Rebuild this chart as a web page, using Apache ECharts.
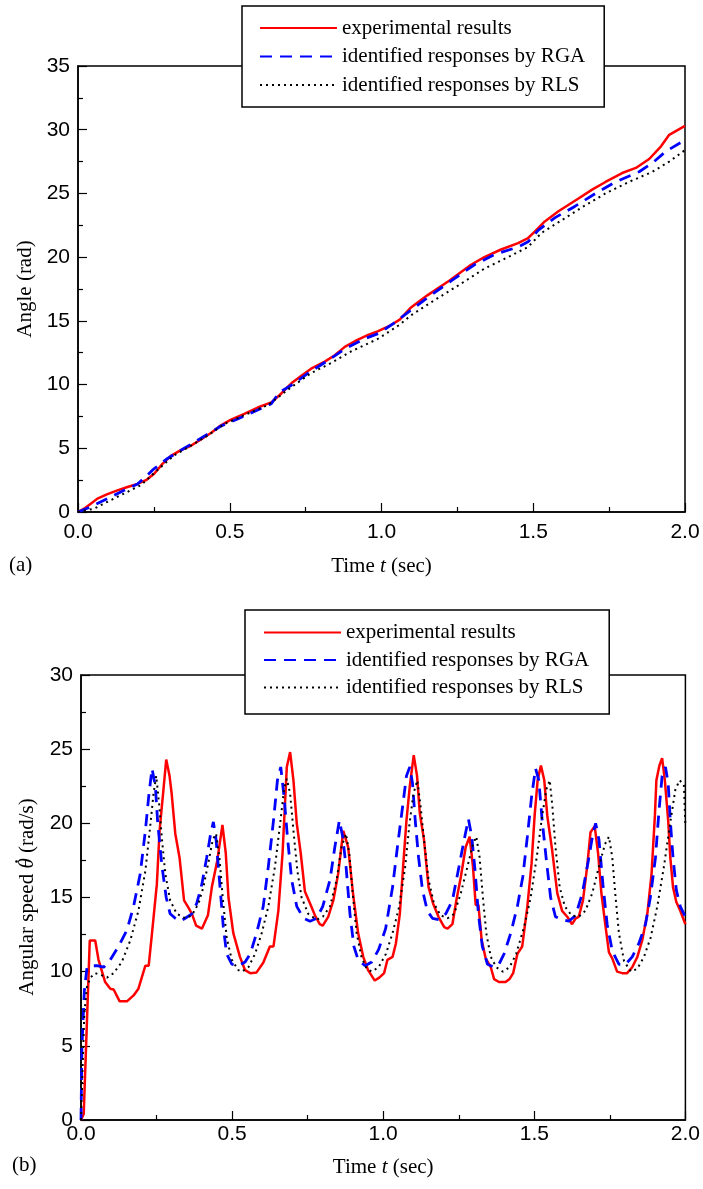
<!DOCTYPE html>
<html>
<head>
<meta charset="utf-8">
<title>Angle and angular speed responses</title>
<script src="https://cdn.jsdelivr.net/npm/echarts@6/dist/echarts.min.js"></script>
<style>
  html, body { margin: 0; padding: 0; background: #fff; }
  #canvas { width: 703px; height: 1189px; }
</style>
</head>
<body>
<div id="canvas"></div>
<script type="text/javascript">
// 图例名称
var seriesNames = ['experimental results', 'identified responses by RGA', 'identified responses by RLS'];

// (a) 角度 [t, rad]
var angleExp = [[0,0],[0.02,0.26],[0.042,0.65],[0.064,1.05],[0.097,1.4],[0.13,1.7],[0.163,1.96],[0.196,2.2],[0.224,2.5],[0.251,3.0],[0.279,3.8],[0.306,4.4],[0.339,4.85],[0.372,5.2],[0.405,5.7],[0.438,6.2],[0.471,6.8],[0.504,7.25],[0.548,7.7],[0.592,8.2],[0.637,8.6],[0.67,9.3],[0.703,10.1],[0.736,10.7],[0.768,11.25],[0.813,11.8],[0.846,12.3],[0.879,12.96],[0.912,13.4],[0.956,13.9],[0.989,14.2],[1.03,14.65],[1.06,15.1],[1.095,16.0],[1.151,17.0],[1.223,18.15],[1.295,19.4],[1.339,20.0],[1.394,20.6],[1.45,21.1],[1.483,21.5],[1.505,22.0],[1.538,22.8],[1.583,23.6],[1.649,24.6],[1.694,25.3],[1.738,25.9],[1.793,26.6],[1.838,27.0],[1.882,27.7],[1.921,28.7],[1.948,29.6],[2.0,30.3]];
var angleRga = [[0,0],[0.042,0.4],[0.097,1.05],[0.152,1.7],[0.196,2.2],[0.225,2.8],[0.246,3.3],[0.295,4.2],[0.35,5.0],[0.427,6.1],[0.471,6.75],[0.526,7.3],[0.592,8.0],[0.637,8.5],[0.664,9.4],[0.703,9.95],[0.758,10.9],[0.824,11.9],[0.879,12.8],[0.945,13.6],[0.989,14.0],[1.04,14.8],[1.095,15.8],[1.162,17.0],[1.239,18.3],[1.306,19.4],[1.372,20.2],[1.45,20.8],[1.483,21.2],[1.516,22.1],[1.572,23.1],[1.638,24.0],[1.705,25.0],[1.771,25.9],[1.849,26.7],[1.893,27.4],[1.937,28.3],[2.0,29.2]];
var angleRls = [[0,0],[0.053,0.26],[0.097,0.8],[0.152,1.45],[0.207,2.1],[0.262,3.3],[0.317,4.45],[0.372,5.2],[0.427,6.0],[0.482,6.9],[0.548,7.6],[0.626,8.4],[0.67,9.2],[0.703,9.8],[0.768,10.9],[0.835,11.7],[0.9,12.6],[0.989,13.6],[1.06,14.7],[1.095,15.4],[1.173,16.6],[1.261,17.9],[1.339,19.1],[1.417,20.0],[1.483,20.8],[1.527,21.9],[1.594,22.9],[1.66,23.9],[1.738,25.0],[1.815,25.9],[1.893,26.7],[1.948,27.5],[2.0,28.4]];

// (b) 角速度 [t, rad/s]
var speedExp = [[0,0],[0.009,0.4],[0.029,12.1],[0.047,12.1],[0.058,10.8],[0.08,9.3],[0.097,8.85],[0.108,8.8],[0.128,8.0],[0.152,8.0],[0.174,8.4],[0.19,8.85],[0.213,10.4],[0.224,10.4],[0.235,12.6],[0.251,15.9],[0.26,19.5],[0.273,22.3],[0.282,24.3],[0.293,23.2],[0.30,22.0],[0.312,19.3],[0.326,17.7],[0.341,14.8],[0.356,14.3],[0.367,13.9],[0.381,13.1],[0.40,12.9],[0.42,13.8],[0.433,15.7],[0.451,17.5],[0.468,19.9],[0.479,18.0],[0.488,15.0],[0.504,12.6],[0.526,11.0],[0.543,10.1],[0.56,9.9],[0.581,9.95],[0.603,10.6],[0.625,11.7],[0.637,11.7],[0.653,14.1],[0.667,18.0],[0.681,23.8],[0.692,24.8],[0.703,22.9],[0.714,20.0],[0.727,18.0],[0.741,15.4],[0.758,14.6],[0.774,13.8],[0.79,13.2],[0.80,13.1],[0.818,13.7],[0.835,14.8],[0.851,16.6],[0.868,19.5],[0.884,18.4],[0.90,15.3],[0.917,12.6],[0.934,11.0],[0.95,10.1],[0.972,9.4],[0.987,9.6],[1.003,9.9],[1.014,10.8],[1.031,11.0],[1.042,11.9],[1.055,13.9],[1.066,17.1],[1.077,20.2],[1.088,22.5],[1.101,24.6],[1.112,23.2],[1.121,20.7],[1.135,18.9],[1.15,15.7],[1.165,14.6],[1.183,13.7],[1.202,13.0],[1.213,12.9],[1.229,13.2],[1.242,14.8],[1.257,16.4],[1.273,18.4],[1.286,19.1],[1.297,17.1],[1.306,14.5],[1.315,14.5],[1.326,12.1],[1.339,10.9],[1.356,10.3],[1.367,9.5],[1.383,9.3],[1.405,9.3],[1.418,9.5],[1.43,9.9],[1.444,11.2],[1.46,11.7],[1.477,14.4],[1.491,17.3],[1.501,20.5],[1.511,22.9],[1.522,23.9],[1.533,22.9],[1.543,20.5],[1.559,18.2],[1.576,15.3],[1.592,14.1],[1.609,13.7],[1.625,13.2],[1.637,13.6],[1.647,13.7],[1.661,14.8],[1.675,17.1],[1.686,19.4],[1.7,19.8],[1.711,18.0],[1.722,15.3],[1.736,13.0],[1.747,11.3],[1.758,10.9],[1.774,10.0],[1.791,9.9],[1.807,9.9],[1.824,10.3],[1.841,11.0],[1.857,12.1],[1.874,13.9],[1.888,16.6],[1.899,20.5],[1.904,22.9],[1.914,23.9],[1.923,24.4],[1.932,22.9],[1.943,20.2],[1.95,17.7],[1.959,15.7],[1.97,14.7],[1.983,14.1],[2.0,13.2]];
var speedRga = [[0,0],[0.003,4.9],[0.011,8.7],[0.02,10.3],[0.036,10.4],[0.053,10.4],[0.075,10.3],[0.097,10.8],[0.124,11.7],[0.152,12.8],[0.174,14.4],[0.196,16.6],[0.213,19.5],[0.224,21.8],[0.235,23.7],[0.246,22.5],[0.254,20.0],[0.268,17.1],[0.282,15.0],[0.295,13.9],[0.312,13.6],[0.328,13.4],[0.345,13.6],[0.367,13.9],[0.383,14.6],[0.40,15.9],[0.416,17.7],[0.429,19.3],[0.438,20.1],[0.447,18.9],[0.458,16.2],[0.471,13.0],[0.482,11.2],[0.499,10.5],[0.521,10.4],[0.543,10.65],[0.56,11.2],[0.581,12.6],[0.603,14.4],[0.62,17.1],[0.637,20.2],[0.65,22.9],[0.661,23.8],[0.672,21.8],[0.683,19.1],[0.697,16.2],[0.714,14.4],[0.736,13.6],[0.758,13.4],[0.78,13.6],[0.80,14.4],[0.824,16.2],[0.84,18.4],[0.855,20.2],[0.866,19.1],[0.877,17.1],[0.89,13.9],[0.903,11.7],[0.917,10.8],[0.94,10.4],[0.962,10.65],[0.985,11.5],[1.008,12.9],[1.031,15.7],[1.047,18.4],[1.064,21.1],[1.077,23.2],[1.088,23.8],[1.097,22.7],[1.106,20.2],[1.117,17.7],[1.13,15.5],[1.146,14.1],[1.163,13.6],[1.185,13.5],[1.207,13.9],[1.229,14.8],[1.251,17.1],[1.268,18.9],[1.282,20.3],[1.293,19.1],[1.304,16.8],[1.315,13.9],[1.328,11.7],[1.345,10.5],[1.367,10.3],[1.383,10.5],[1.4,11.2],[1.422,12.6],[1.444,14.4],[1.462,16.4],[1.477,19.1],[1.491,21.8],[1.504,23.7],[1.515,22.9],[1.526,20.2],[1.54,17.5],[1.554,15.0],[1.57,13.7],[1.592,13.5],[1.614,13.4],[1.637,13.8],[1.659,15.3],[1.679,17.5],[1.694,19.3],[1.703,20.0],[1.714,18.9],[1.727,15.9],[1.741,13.2],[1.758,11.4],[1.78,10.5],[1.802,10.5],[1.824,11.0],[1.846,11.9],[1.868,13.2],[1.884,15.0],[1.901,17.7],[1.912,20.7],[1.923,23.2],[1.934,23.8],[1.943,22.7],[1.95,20.2],[1.959,17.7],[1.97,15.5],[1.983,14.4],[2.0,13.7]];
var speedRls = [[0,0],[0.004,2.7],[0.011,7.2],[0.02,9.0],[0.031,9.6],[0.047,9.9],[0.069,9.75],[0.086,9.6],[0.108,9.9],[0.135,10.65],[0.163,12.1],[0.19,14.1],[0.213,16.8],[0.229,19.8],[0.24,22.0],[0.249,23.2],[0.259,21.2],[0.268,18.9],[0.279,16.6],[0.295,14.8],[0.317,13.9],[0.345,13.6],[0.367,13.8],[0.389,14.6],[0.405,15.7],[0.422,17.4],[0.436,18.9],[0.447,19.3],[0.458,17.7],[0.469,15.0],[0.482,12.3],[0.499,10.8],[0.521,10.1],[0.532,10.0],[0.554,10.3],[0.576,11.2],[0.598,12.6],[0.62,14.4],[0.642,17.1],[0.659,20.0],[0.672,22.3],[0.681,23.0],[0.692,22.0],[0.703,19.5],[0.716,16.8],[0.73,15.0],[0.752,13.9],[0.78,13.5],[0.80,13.7],[0.824,14.4],[0.846,16.2],[0.862,18.4],[0.877,19.3],[0.888,17.9],[0.899,15.3],[0.912,12.6],[0.928,11.0],[0.945,10.2],[0.962,10.0],[0.985,10.3],[1.009,11.2],[1.031,12.6],[1.053,14.4],[1.073,17.1],[1.086,19.8],[1.1,22.0],[1.113,22.9],[1.124,21.1],[1.135,18.9],[1.15,16.2],[1.168,14.6],[1.19,13.8],[1.213,13.6],[1.235,13.9],[1.257,15.3],[1.279,17.1],[1.297,18.6],[1.308,19.1],[1.319,17.7],[1.33,15.0],[1.341,12.6],[1.356,11.0],[1.374,10.3],[1.396,10.0],[1.418,10.3],[1.44,11.2],[1.466,13.0],[1.488,15.0],[1.51,18.0],[1.526,20.5],[1.54,22.3],[1.551,22.9],[1.56,21.1],[1.57,18.4],[1.584,15.7],[1.601,14.4],[1.623,13.8],[1.647,13.7],[1.669,14.1],[1.692,15.3],[1.714,17.1],[1.734,18.6],[1.747,19.1],[1.758,17.7],[1.769,15.0],[1.78,12.6],[1.797,10.7],[1.82,10.0],[1.841,10.2],[1.863,11.0],[1.885,12.3],[1.907,14.4],[1.929,17.1],[1.951,20.2],[1.967,22.3],[1.981,22.9],[1.995,22.6],[2.0,19.8]];

var sans = 'Liberation Sans, Arial, sans-serif';
var serif = 'Liberation Serif, Times New Roman, serif';

// 公共坐标轴样式
function xAxisOf(gridIndex, labelMargin, gap) {
    return {
        type: 'value', gridIndex: gridIndex, min: 0, max: 2, interval: 0.5,
        name: '{n|Time }{i|t}{n| (sec)}',
        nameLocation: 'middle', nameGap: gap,
        nameTextStyle: { rich: {
            n: { fontFamily: serif, fontSize: 21, color: '#000' },
            i: { fontFamily: serif, fontSize: 21, fontStyle: 'italic', color: '#000' }
        }},
        axisLine: { lineStyle: { color: '#000', width: 1.5 } },
        axisTick: { inside: true, length: 9, lineStyle: { color: '#000', width: 1.2 } },
        minorTick: { show: true, splitNumber: 2, length: 5, lineStyle: { color: '#000', width: 1.2 } },
        splitLine: { show: false },
        axisLabel: { margin: labelMargin, fontFamily: sans, fontSize: 21, color: '#000',
            formatter: function (v) { return v.toFixed(1); } }
    };
}
function yAxisOf(gridIndex, max, name, gap) {
    return {
        type: 'value', gridIndex: gridIndex, min: 0, max: max, interval: 5,
        name: name, nameLocation: 'middle', nameGap: gap,
        nameTextStyle: { fontFamily: serif, fontSize: 21, color: '#000' },
        axisLine: { lineStyle: { color: '#000', width: 1.5 } },
        axisTick: { inside: true, length: 9, lineStyle: { color: '#000', width: 1.2 } },
        minorTick: { show: true, splitNumber: 2, length: 5, lineStyle: { color: '#000', width: 1.2 } },
        splitLine: { show: false },
        axisLabel: { margin: 8, fontFamily: sans, fontSize: 21, color: '#000' }
    };
}
function legendOf(left, top, gap, pad) {
    return {
        left: left, top: top, orient: 'vertical',
        data: seriesNames,
        itemWidth: 77, itemHeight: 22, itemGap: gap, itemTextGap: 9,
        padding: pad,
        backgroundColor: '#fff', borderColor: '#000', borderWidth: 1.5,
        itemStyle: { color: 'rgba(0,0,0,0)', borderWidth: 0, opacity: 0 },
        textStyle: { fontFamily: serif, fontSize: 21, color: '#000' },
        selectedMode: false
    };
}
function lineOf(name, idx, data) {
    var styles = [
        { color: '#ff0000', width: 2.5, type: 'solid' },
        { color: '#0000ff', width: 2.8, type: [12, 8] },
        { color: '#000000', width: 2, type: [2, 4] }
    ];
    var s = styles[seriesNames.indexOf(name)];
    return {
        name: name, type: 'line', xAxisIndex: idx, yAxisIndex: idx,
        data: data, showSymbol: false, symbol: 'none',
        smooth: false,
        itemStyle: { color: s.color },
        lineStyle: s
    };
}

// (b) 纵轴名称: θ 上加点, 用 graphic 组合
var ctx = document.createElement('canvas').getContext('2d');
ctx.font = '21px ' + serif;
var w1 = ctx.measureText('Angular speed ').width;
var w3 = ctx.measureText(' (rad/s)').width;
ctx.font = 'italic 21px ' + serif;
var wT = ctx.measureText('θ').width;
var W = w1 + wT + w3;
var x0 = -W / 2;

var Dom = document.querySelector('#canvas');
var myChart = echarts.init(Dom);
var option = {
    animation: false,
    backgroundColor: '#fff',
    grid: [
        { left: 78, top: 66, width: 607, height: 446, show: true, borderColor: '#000', borderWidth: 1.5, backgroundColor: 'transparent' },
        { left: 81, top: 675, width: 606, height: 445, show: true, borderColor: '#000', borderWidth: 1.5, backgroundColor: 'transparent' }
    ],
    legend: [
        legendOf(242, 6, 7.5, [11.5, 19, 11.5, 17]),
        legendOf(245, 610, 6.5, [12, 20, 16, 18])
    ],
    xAxis: [xAxisOf(0, 10, 44), xAxisOf(1, 4, 37)],
    yAxis: [
        yAxisOf(0, 35, 'Angle (rad)', 39),
        yAxisOf(1, 30, '', 40)
    ],
    graphic: [
        { type: 'text', left: 9, top: 555, style: { text: '(a)', font: '21px ' + serif, fill: '#000' } },
        { type: 'text', left: 12, top: 1155, style: { text: '(b)', font: '21px ' + serif, fill: '#000' } },
        {
            type: 'group', x: 27, y: 897, rotation: Math.PI / 2,
            children: [
                { type: 'text', style: { x: x0, y: 0, text: 'Angular speed ', font: '21px ' + serif, fill: '#000', align: 'left', verticalAlign: 'middle' } },
                { type: 'text', style: { x: x0 + w1, y: 0, text: 'θ', font: 'italic 21px ' + serif, fill: '#000', align: 'left', verticalAlign: 'middle' } },
                { type: 'circle', shape: { cx: x0 + w1 + wT / 2 + 2, cy: -10.5, r: 1.3 }, style: { fill: '#000' } },
                { type: 'text', style: { x: x0 + w1 + wT, y: 0, text: ' (rad/s)', font: '21px ' + serif, fill: '#000', align: 'left', verticalAlign: 'middle' } }
            ]
        }
    ],
    series: [
        lineOf(seriesNames[0], 0, angleExp),
        lineOf(seriesNames[1], 0, angleRga),
        lineOf(seriesNames[2], 0, angleRls),
        lineOf(seriesNames[0], 1, speedExp),
        lineOf(seriesNames[1], 1, speedRga),
        lineOf(seriesNames[2], 1, speedRls)
    ]
};
myChart.setOption(option);
</script>
</body>
</html>
